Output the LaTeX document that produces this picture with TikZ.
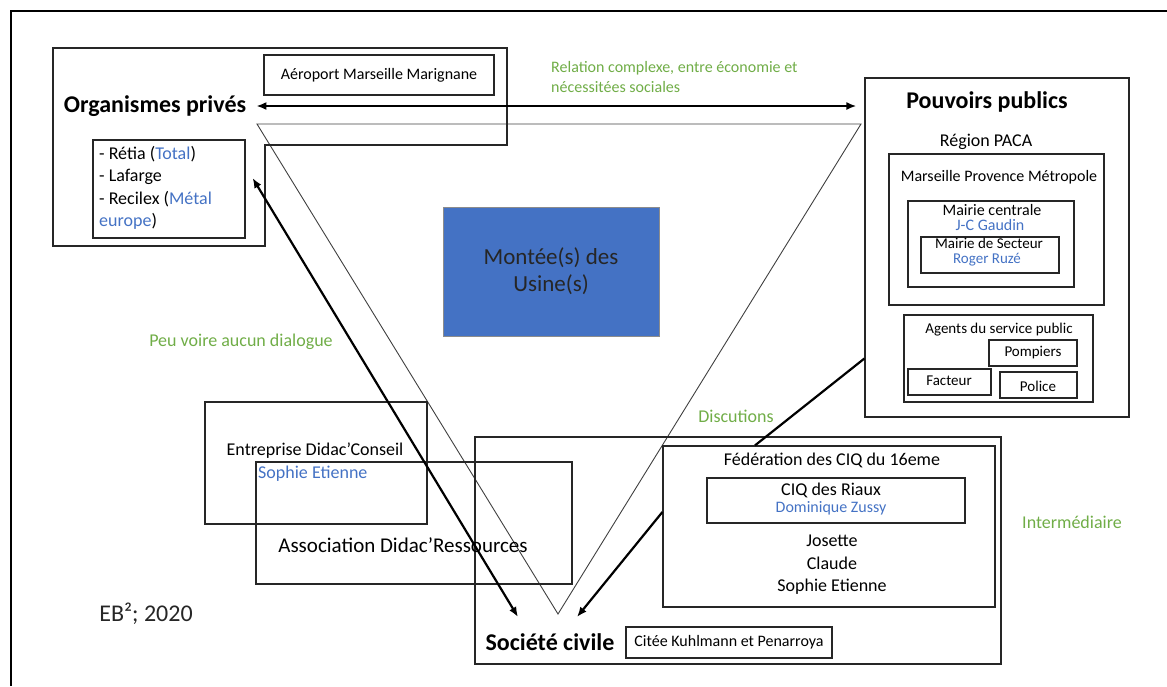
\documentclass[tikz,border=0pt]{standalone}
\usepackage{fontspec}
\setmainfont{Carlito}
\usetikzlibrary{arrows.meta,fit,positioning}

\definecolor{ugreen}{HTML}{70AD47}
\definecolor{ublue}{HTML}{4472C4}
\definecolor{usinefill}{HTML}{4472C4}

\tikzset{
  box/.style={draw=black!85, line width=1.2pt, inner sep=0pt},
  txts/.style={inner sep=0pt, font=\fontsize{16}{20}\selectfont},
  txtm/.style={inner sep=0pt, font=\fontsize{18}{22.5}\selectfont},
  txtx/.style={inner sep=0pt, font=\fontsize{15}{18}\selectfont},
  title/.style={inner sep=0pt, font=\bfseries\fontsize{24}{28}\selectfont},
  note/.style={txtm, text=ugreen},
  who/.style={text=ublue},
  link/.style={line width=2.2pt, -{Latex[length=10pt,width=8pt]}},
  dlink/.style={line width=2.2pt, {Latex[length=10pt,width=8pt]}-{Latex[length=10pt,width=8pt]}},
}

\begin{document}
\begin{tikzpicture}[x=1pt, y=-1pt]

    \useasboundingbox (0,0) rectangle (1167,686);
    \draw[line width=2pt] (11,686) -- (11,11) -- (1167,11);

    % Triangle
    \coordinate (triL) at (257,124);
    \coordinate (triR) at (861,124);
    \coordinate (triB) at (558,614);
    \draw[line width=0.9pt, black!75] (triL) -- (triR) -- (triB) -- cycle;

    % Organismes prives
    \draw[box] (53,48) -- (507,48) -- (507,145) -- (265,145) -- (265,246) -- (53,246) -- cycle;
    \node[box, fit={(264,55) (494,95)}]            (aero) {};
    \node[txts] at (aero.center)                   {Aéroport Marseille Marignane};
    \node[title]                                   (org) at (155,106) {Organismes privés};
    \node[box, fit={(93,140) (245,238)}]           (retia) {};
    \node[txtm, align=left, anchor=north west]     (retia-list) at (99,146)
      {- Rétia (\textcolor{ublue}{Total})\\- Lafarge\\- Recilex (\textcolor{ublue}{Métal}\\\textcolor{ublue}{europe})};

    % Usines
    \node[draw=black!45, fill=usinefill, line width=1pt, inner sep=0pt, fit={(443,207) (659,336)}] (usine) {};
    \node[align=center, text=black!85, font=\fontsize{23}{27}\selectfont] at (usine.center) {Montée(s) des\\Usine(s)};

    % Pouvoirs publics
    \node[box, fit={(865,78) (1129,417)}]          (pouv) {};
    \node[title]                                   at (987,102) {Pouvoirs publics};
    \node[txtm]                                    at (986,142) {Région PACA};
    \node[box, fit={(889,154) (1104,305)}]         (mpm) {};
    \node[txts]                                    at (999,177) {Marseille Provence Métropole};
    \node[box, fit={(908,201) (1074,287)}]         (mairie) {};
    \node[txts]                                    at (992,210) {Mairie centrale};
    \node[txts, who]                               at (990,225) {J-C Gaudin};
    \node[box, fit={(921,237) (1059,273)}]         (secteur) {};
    \node[txtx]                                    at (989,243) {Mairie de Secteur};
    \node[txtx, who]                               at (987,260) {Roger Ruzé};
    \node[box, fit={(904,315) (1093,402)}]         (agents) {};
    \node[txtx]                                    at (999,330) {Agents du service public};
    \node[box, fit={(989,340) (1077,366)}]         (pompiers) {};
    \node[txtx]                                    at (pompiers.center) {Pompiers};
    \node[box, fit={(908,369) (991,395)}]          (facteur) {};
    \node[txtx]                                    at (949,381) {Facteur};
    \node[box, fit={(1000,372) (1077,398)}]        (police) {};
    \node[txtx]                                    at (1038,386) {Police};

    % Societe civile
    \node[box, fit={(475,437) (1001,664)}]         (soc) {};
    \node[title]                                   (soc-title) at (550,642) {Société civile};
    \node[box, fit={(626,627) (832,658)}]          (cite) {};
    \node[txts]                                    at (cite.center) {Citée Kuhlmann et Penarroya};
    \node[box, fit={(663,446) (995,607)}]          (fede) {};
    \node[txtm]                                    at (832,460) {Fédération des CIQ du 16eme};
    \node[box, fit={(707,478) (965,523)}]          (ciq) {};
    \node[txtm]                                    at (831,490) {CIQ des Riaux};
    \node[txts, who]                               at (831,508) {Dominique Zussy};
    \node[txtm, align=center]                      (membres) at (832,565) {Josette\\Claude\\Sophie Etienne};

    % Didac
    \node[box, fit={(205,402) (427,524)}]          (entreprise) {};
    \node[txtm]                                    at (315,451) {Entreprise Didac'Conseil};
    \node[txtm, who, anchor=west]                  at (258,474) {Sophie Etienne};
    \node[box, fit={(256,462) (572,584)}]          (asso) {};
    \node[inner sep=0pt, font=\fontsize{21}{25}\selectfont] at (403,545) {Association Didac'Ressources};

    % Labels
    \node[txts, text=ugreen, align=left, anchor=north west] (relation) at (551,61)
      {Relation complexe, entre économie et\\nécessitées sociales};
    \node[note]                                    at (241,342) {Peu voire aucun dialogue};
    \node[note]                                    at (736,416) {Discutions};
    \node[note]                                    at (1072,522) {Intermédiaire};
    \node[inner sep=0pt, font=\fontsize{24}{28}\selectfont, text=black!85] at (146,614) {EB²; 2020};

    % Connect the nodes
    \coordinate (soc-in1) at (518,617);
    \coordinate (soc-in2) at (577,617);
    \draw[dlink] ([xshift=10pt]org.east) -- ([xshift=-8pt]pouv.west |- org.east);
    \draw[dlink] ([shift={(7,-11)}]retia.east) -- (soc-in1);
    \draw[link] ([yshift=14.5pt]fede.west) -- (soc-in2);
    \draw[line width=2.2pt] (pouv.west |- agents.west) -- ([xshift=-74pt]fede.north);

\end{tikzpicture}
\end{document}
